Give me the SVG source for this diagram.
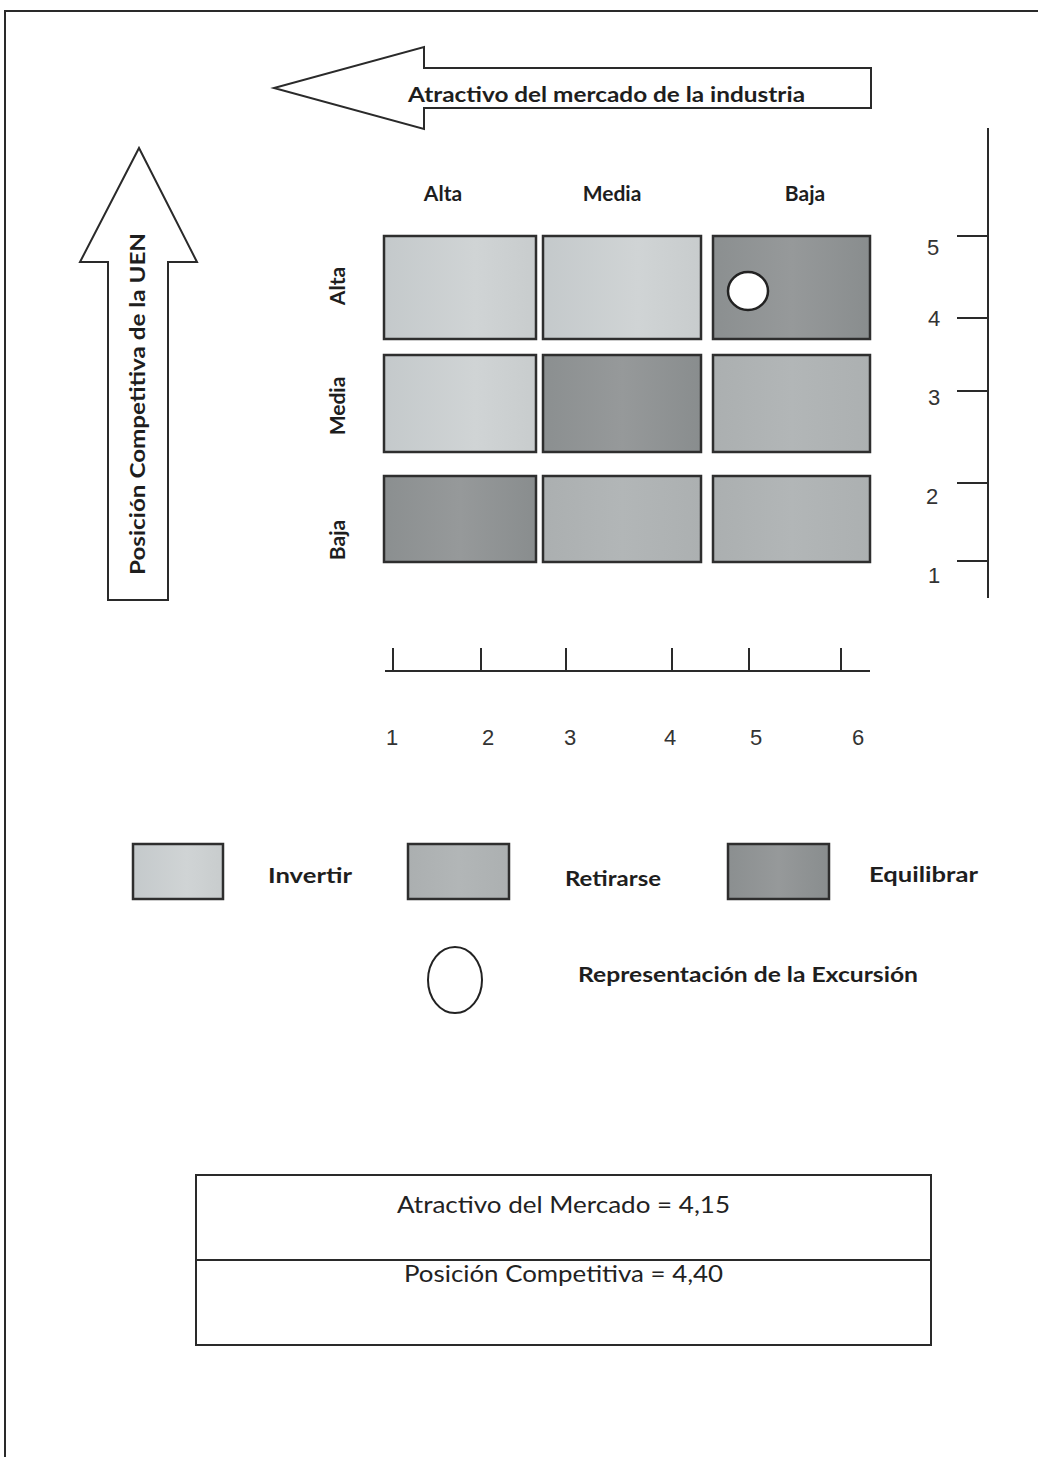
<svg xmlns="http://www.w3.org/2000/svg" width="1038" height="1457" viewBox="0 0 1038 1457">
<defs>
<linearGradient id="gLight" x1="0" y1="0" x2="1" y2="0">
<stop offset="0" stop-color="#c4c9cb"/><stop offset="0.6" stop-color="#d0d4d5"/><stop offset="1" stop-color="#c8cccd"/>
</linearGradient>
<linearGradient id="gMed" x1="0" y1="0" x2="1" y2="0">
<stop offset="0" stop-color="#abafb0"/><stop offset="0.5" stop-color="#b2b6b7"/><stop offset="1" stop-color="#acb0b1"/>
</linearGradient>
<linearGradient id="gDark" x1="0" y1="0" x2="1" y2="0">
<stop offset="0" stop-color="#8b8f90"/><stop offset="0.5" stop-color="#96999a"/><stop offset="1" stop-color="#898d8e"/>
</linearGradient>
<style>
.ln{stroke:#2a2a2a;stroke-width:2;fill:none}
.cell{stroke:#2e2e2e;stroke-width:2.5}
.b{font-family:Lato,"Open Sans","Liberation Sans",sans-serif;font-weight:bold;font-size:20px;fill:#1e1e1e}
.h{font-size:21px}
.r{font-family:Lato,"Open Sans","Liberation Sans",sans-serif;font-size:23px;fill:#222}
.n{font-family:"Liberation Sans",Arial,sans-serif;font-size:22px;fill:#333}
.light{fill:url(#gLight)}
.med{fill:url(#gMed)}
.dark{fill:url(#gDark)}
</style>
</defs>
<rect width="1038" height="1457" fill="#ffffff"/>
<g id="frame">
<path class="ln" d="M5,1457 V11 H1038"/>
</g>
<g id="arrow-top">
<path class="ln" d="M871,68 H424 V47 L274,88 L424,129 V108 H871 Z" fill="#fff"/>
<text class="b" x="408" y="102" textLength="397" lengthAdjust="spacingAndGlyphs">Atractivo del mercado de la industria</text>
</g>
<g id="arrow-left">
<path class="ln" d="M108,600 V262 H80 L139,148 L197,262 H168 V600 Z" fill="#fff"/>
<text class="b" transform="translate(145,575) rotate(-90)" x="0" y="0" textLength="342" lengthAdjust="spacingAndGlyphs">Posición Competitiva de la UEN</text>
</g>
<g id="col-headers">
<text class="b h" x="443" y="201" text-anchor="middle">Alta</text>
<text class="b h" x="612" y="201" text-anchor="middle">Media</text>
<text class="b h" x="805" y="201" text-anchor="middle">Baja</text>
</g>
<g id="row-headers">
<text class="b h" transform="translate(345,286) rotate(-90)" text-anchor="middle">Alta</text>
<text class="b h" transform="translate(345,406) rotate(-90)" text-anchor="middle">Media</text>
<text class="b h" transform="translate(345,540) rotate(-90)" text-anchor="middle">Baja</text>
</g>
<g id="grid">
<rect id="c11" class="cell light" x="384" y="236" width="152" height="103"/>
<rect id="c12" class="cell light" x="543" y="236" width="158" height="103"/>
<rect id="c13" class="cell dark" x="713" y="236" width="157" height="103"/>
<rect id="c21" class="cell light" x="384" y="355" width="152" height="97"/>
<rect id="c22" class="cell dark" x="543" y="355" width="158" height="97"/>
<rect id="c23" class="cell med" x="713" y="355" width="157" height="97"/>
<rect id="c31" class="cell dark" x="384" y="476" width="152" height="86"/>
<rect id="c32" class="cell med" x="543" y="476" width="158" height="86"/>
<rect id="c33" class="cell med" x="713" y="476" width="157" height="86"/>
<ellipse id="position" cx="748" cy="291" rx="20" ry="19" fill="#fff" stroke="#222" stroke-width="2.5"/>
</g>
<g id="scale-right">
<path class="ln" d="M988,128 V598 M957,236 H988 M957,318 H988 M957,391 H988 M957,483 H988 M957,561 H988"/>
<text class="n" x="933" y="255" text-anchor="middle">5</text>
<text class="n" x="934" y="326" text-anchor="middle">4</text>
<text class="n" x="934" y="405" text-anchor="middle">3</text>
<text class="n" x="932" y="504" text-anchor="middle">2</text>
<text class="n" x="934" y="583" text-anchor="middle">1</text>
</g>
<g id="scale-bottom">
<path class="ln" d="M385,671 H870 M393,648 V671 M481,648 V671 M566,648 V671 M672,648 V671 M749,648 V671 M841,648 V671"/>
<text class="n" x="392" y="745" text-anchor="middle">1</text>
<text class="n" x="488" y="745" text-anchor="middle">2</text>
<text class="n" x="570" y="745" text-anchor="middle">3</text>
<text class="n" x="670" y="745" text-anchor="middle">4</text>
<text class="n" x="756" y="745" text-anchor="middle">5</text>
<text class="n" x="858" y="745" text-anchor="middle">6</text>
</g>
<g id="legend-invertir">
<rect class="cell light" x="133" y="844" width="90" height="55"/>
<text class="b" x="268" y="883" textLength="84" lengthAdjust="spacingAndGlyphs">Invertir</text>
</g>
<g id="legend-retirarse">
<rect class="cell med" x="408" y="844" width="101" height="55"/>
<text class="b" x="565" y="886" textLength="96" lengthAdjust="spacingAndGlyphs">Retirarse</text>
</g>
<g id="legend-equilibrar">
<rect class="cell dark" x="728" y="844" width="101" height="55"/>
<text class="b" x="869" y="882" textLength="109" lengthAdjust="spacingAndGlyphs">Equilibrar</text>
</g>
<g id="legend-excursion">
<ellipse cx="455" cy="980" rx="27" ry="33" fill="#fff" stroke="#222" stroke-width="2"/>
<text class="b" x="578" y="982" textLength="340" lengthAdjust="spacingAndGlyphs">Representación  de la Excursión</text>
</g>
<g id="results">
<rect class="ln" x="196" y="1175" width="735" height="170" fill="#fff"/>
<path class="ln" d="M196,1260 H931"/>
<text class="r" x="397" y="1213" textLength="333" lengthAdjust="spacingAndGlyphs">Atractivo del Mercado = 4,15</text>
<text class="r" x="404" y="1282" textLength="319" lengthAdjust="spacingAndGlyphs">Posición Competitiva = 4,40</text>
</g>
</svg>
